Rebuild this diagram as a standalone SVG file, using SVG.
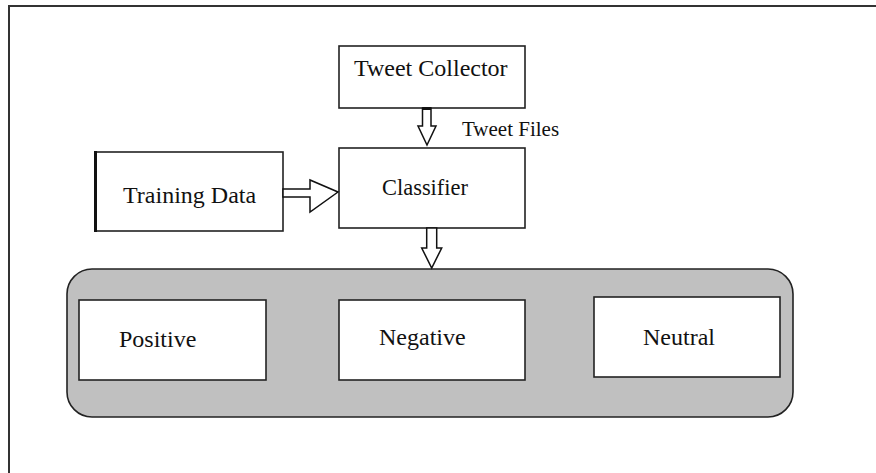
<svg xmlns="http://www.w3.org/2000/svg" width="876" height="473" viewBox="0 0 876 473">
<style>
.box{fill:#ffffff;stroke:#222;stroke-width:1.6}
.lbl{font-family:"Liberation Serif","Times New Roman",serif;font-size:24px;fill:#111}
.small{font-family:"Liberation Serif","Times New Roman",serif;font-size:21px;fill:#111}
.arrow{fill:#ffffff;stroke:#111;stroke-width:1.5;stroke-linejoin:miter}
</style>
<rect width="876" height="473" fill="#ffffff"/>
<g id="frame">
<path d="M9,473 L9,6 L876,6" fill="none" stroke="#333" stroke-width="2"/>
</g>
<g id="output-group">
<rect x="67" y="269" width="726" height="148" rx="25" ry="25" fill="#c0c0c0" stroke="#222" stroke-width="1.6"/>
</g>
<g id="tweet-collector">
<rect class="box" x="339" y="46" width="186" height="62"/>
<text class="lbl" x="354" y="76">Tweet Collector</text>
</g>
<g id="classifier">
<rect class="box" x="339" y="148" width="186" height="80"/>
<text class="lbl" x="382" y="195" textLength="86" lengthAdjust="spacingAndGlyphs">Classifier</text>
</g>
<g id="training-data">
<rect class="box" x="95" y="152" width="188" height="79"/>
<line x1="95.5" y1="151" x2="95.5" y2="232" stroke="#111" stroke-width="3"/>
<text class="lbl" x="123" y="203">Training Data</text>
</g>
<g id="positive">
<rect class="box" x="79" y="300" width="187" height="80"/>
<text class="lbl" x="119" y="347">Positive</text>
</g>
<g id="negative">
<rect class="box" x="339" y="300" width="186" height="80"/>
<text class="lbl" x="379" y="345">Negative</text>
</g>
<g id="neutral">
<rect class="box" x="594" y="297" width="186" height="80"/>
<text class="lbl" x="643" y="345">Neutral</text>
</g>
<g id="connectors">
<path class="arrow" d="M422.5,108 L431,108 L431,126 L436,126 L427,145 L418,126 L422.5,126 Z"/>
<line x1="422.5" y1="108.5" x2="431" y2="108.5" stroke="#111" stroke-width="3"/>
<text class="small" x="462" y="136">Tweet Files</text>
<path class="arrow" d="M283,189 L310,189 L310,180 L338,192 L310,212 L310,197 L283,197 Z"/>
<path class="arrow" d="M426.7,228 L436.7,228 L436.7,248 L441.7,248 L431.7,268 L421.7,248 L426.7,248 Z"/>
</g>
</svg>
